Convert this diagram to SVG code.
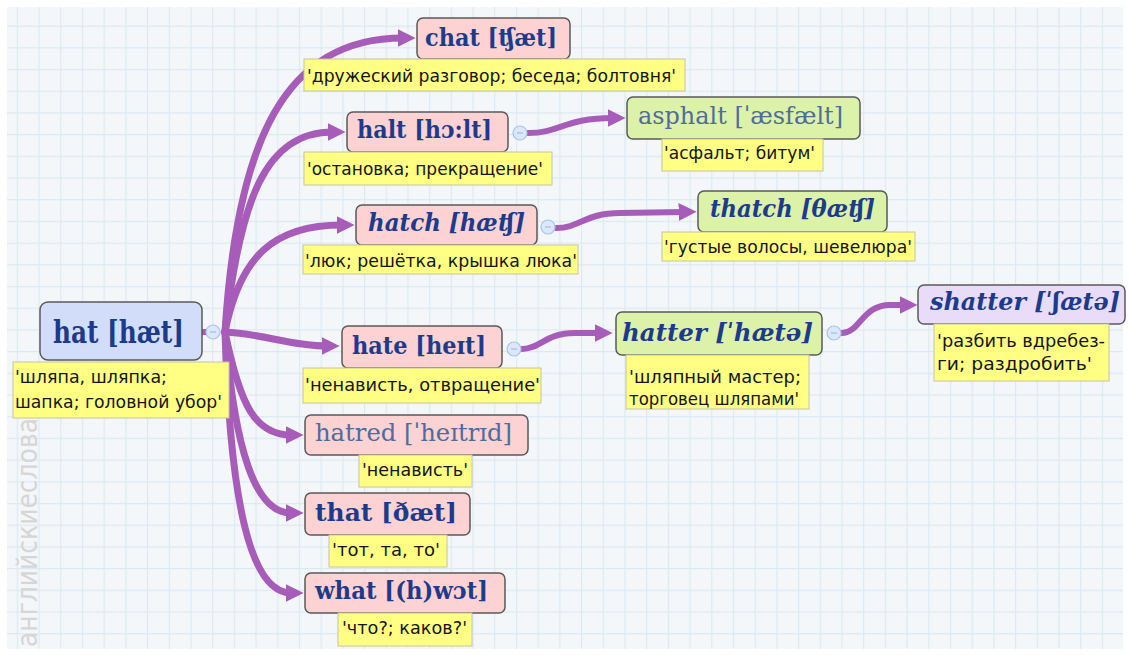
<svg xmlns="http://www.w3.org/2000/svg" width="1129" height="655" viewBox="0 0 1129 655">
<defs>
<pattern id="grid" x="16.8" y="3.8" width="21.7" height="21.7" patternUnits="userSpaceOnUse">
<rect width="21.7" height="21.7" fill="#f4f7f9"/>
<path d="M0.5,0 V21.7 M0,0.5 H21.7" stroke="#dde9f1" stroke-width="1.4" fill="none"/>
</pattern>
<marker id="arr" viewBox="0 0 10 10" refX="3" refY="5" markerWidth="18" markerHeight="19" orient="auto" markerUnits="userSpaceOnUse">
<path d="M0,0 L10,5 L0,10 z" fill="#a65cb8"/>
</marker>
</defs>
<style>
.box{stroke:#5a5a5a;stroke-width:1.5}
.pink{fill:#fcd2d2}
.green{fill:#dcf2a8}
.blue{fill:#d2def9}
.lav{fill:#e9dcf8}
.lbl{fill:#ffff84;stroke:#c4c4a4;stroke-width:1}
.hw{font-family:"DejaVu Serif","Liberation Serif",serif;font-weight:bold;fill:#1c3b8d;font-size:24px}
.it{font-style:italic}
.rg{font-weight:normal;fill:#4f6c9c}
.lt{font-family:"DejaVu Sans","Liberation Sans",sans-serif;font-size:18px;fill:#151515}
.br{fill:none;stroke:#a65cb8;stroke-width:7;stroke-linecap:round}
.sb{fill:none;stroke:#a65cb8;stroke-width:6;stroke-linecap:round}
.col{fill:#dbe7fb;stroke:#aac3ea;stroke-width:1.2}
.minus{stroke:#9ab3da;stroke-width:1}
</style>
<rect x="0" y="0" width="1129" height="655" fill="#ffffff"/>
<rect x="7" y="7" width="1116" height="642" fill="url(#grid)"/>
<text x="37" y="647" transform="rotate(-90 37 647)" font-family="DejaVu Sans, sans-serif" font-size="28" fill="#d6d6d6" textLength="229" lengthAdjust="spacingAndGlyphs">английскиеслова</text>

<g id="connectors">
<path class="br" d="M225,332 C 237,140 285,38 403,38" marker-end="url(#arr)"/>
<path class="br" d="M225,332 C 240,200 265,132 333,132" marker-end="url(#arr)"/>
<path class="br" d="M225,332 C 240,255 275,225 342,225" marker-end="url(#arr)"/>
<path class="br" d="M225,332 C 265,334 290,346 327,346" marker-end="url(#arr)"/>
<path class="br" d="M225,332 C 240,405 255,435 291,435" marker-end="url(#arr)"/>
<path class="br" d="M225,332 C 235,450 255,513 291,513" marker-end="url(#arr)"/>
<path class="br" d="M225,332 C 230,500 250,593 291,593" marker-end="url(#arr)"/>
<path class="sb" d="M202,332 H210"/>
<path class="sb" d="M528,133 C 560,133 565,118 613,118" marker-end="url(#arr)"/>
<path class="sb" d="M556,228 C 580,228 585,213 620,213 L684,212" marker-end="url(#arr)"/>
<path class="sb" d="M522,349 C 540,349 545,333 575,333 L600,333" marker-end="url(#arr)"/>
<path class="sb" d="M842,333 C 860,333 862,305 890,305 L905,305" marker-end="url(#arr)"/>
</g>

<g id="hat">
<rect class="box blue" x="40" y="302" width="162" height="58" rx="8"/>
<text class="hw" x="53" y="343" style="font-size:32px" textLength="131" lengthAdjust="spacingAndGlyphs">hat [hæt]</text>
<rect class="lbl" x="13" y="362" width="216" height="56"/>
<text class="lt" x="15" y="383" textLength="152" lengthAdjust="spacingAndGlyphs">'шляпа, шляпка;</text>
<text class="lt" x="15" y="408" textLength="207" lengthAdjust="spacingAndGlyphs">шапка; головной убор'</text>
<circle class="col" cx="213" cy="332" r="7"/>
<path class="minus" d="M210,332 H216"/>
</g>

<g id="chat">
<rect class="box pink" x="417" y="18" width="153" height="41" rx="6"/>
<text class="hw" x="425" y="46" textLength="132" lengthAdjust="spacingAndGlyphs">chat [ʧæt]</text>
<rect class="lbl" x="304" y="59" width="381" height="32"/>
<text class="lt" x="307" y="82" textLength="369" lengthAdjust="spacingAndGlyphs">'дружеский разговор; беседа; болтовня'</text>
</g>

<g id="halt">
<rect class="box pink" x="347" y="112" width="161" height="40" rx="6"/>
<text class="hw" x="357" y="138" textLength="135" lengthAdjust="spacingAndGlyphs">halt [hɔ:lt]</text>
<rect class="lbl" x="304" y="152" width="248" height="33"/>
<text class="lt" x="307" y="175" textLength="236" lengthAdjust="spacingAndGlyphs">'остановка; прекращение'</text>
<circle class="col" cx="520" cy="133" r="7"/>
<path class="minus" d="M517,133 H523"/>
</g>

<g id="asphalt">
<rect class="box green" x="627" y="97" width="233" height="42" rx="6"/>
<text class="hw rg" x="638" y="124" textLength="205" lengthAdjust="spacingAndGlyphs">asphalt [ˈæsfælt]</text>
<rect class="lbl" x="662" y="139" width="161" height="32"/>
<text class="lt" x="664" y="159" textLength="151" lengthAdjust="spacingAndGlyphs">'асфальт; битум'</text>
</g>

<g id="hatch">
<rect class="box pink" x="356" y="205" width="181" height="40" rx="6"/>
<text class="hw it" x="368" y="231" textLength="157" lengthAdjust="spacingAndGlyphs">hatch [hæʧ]</text>
<rect class="lbl" x="303" y="245" width="275" height="29"/>
<text class="lt" x="305" y="267" textLength="272" lengthAdjust="spacingAndGlyphs">'люк; решётка, крышка люка'</text>
<circle class="col" cx="548" cy="227" r="7"/>
<path class="minus" d="M545,227 H551"/>
</g>

<g id="thatch">
<rect class="box green" x="698" y="191" width="189" height="41" rx="6"/>
<text class="hw it" x="710" y="217" textLength="165" lengthAdjust="spacingAndGlyphs">thatch [θæʧ]</text>
<rect class="lbl" x="662" y="232" width="253" height="29"/>
<text class="lt" x="664" y="253" textLength="248" lengthAdjust="spacingAndGlyphs">'густые волосы, шевелюра'</text>
</g>

<g id="hate">
<rect class="box pink" x="342" y="326" width="160" height="42" rx="6"/>
<text class="hw" x="352" y="354" textLength="134" lengthAdjust="spacingAndGlyphs">hate [heɪt]</text>
<rect class="lbl" x="303" y="368" width="238" height="35"/>
<text class="lt" x="305" y="391" textLength="235" lengthAdjust="spacingAndGlyphs">'ненависть, отвращение'</text>
<circle class="col" cx="514" cy="349" r="7"/>
<path class="minus" d="M511,349 H517"/>
</g>

<g id="hatter">
<rect class="box green" x="616" y="312" width="206" height="43" rx="6"/>
<text class="hw it" x="622" y="341" textLength="191" lengthAdjust="spacingAndGlyphs">hatter [ˈhætə]</text>
<rect class="lbl" x="626" y="355" width="183" height="54"/>
<text class="lt" x="629" y="383" textLength="172" lengthAdjust="spacingAndGlyphs">'шляпный мастер;</text>
<text class="lt" x="629" y="405" textLength="170" lengthAdjust="spacingAndGlyphs">торговец шляпами'</text>
<circle class="col" cx="834" cy="333" r="7"/>
<path class="minus" d="M831,333 H837"/>
</g>

<g id="shatter">
<rect class="box lav" x="918" y="285" width="207" height="39" rx="6"/>
<text class="hw it" x="930" y="310" textLength="190" lengthAdjust="spacingAndGlyphs">shatter [ˈʃætə]</text>
<rect class="lbl" x="934" y="324" width="175" height="57"/>
<text class="lt" x="937" y="347" textLength="168" lengthAdjust="spacingAndGlyphs">'разбить вдребез-</text>
<text class="lt" x="937" y="370" textLength="155" lengthAdjust="spacingAndGlyphs">ги; раздробить'</text>
</g>

<g id="hatred">
<rect class="box pink" x="305" y="415" width="223" height="40" rx="6"/>
<text class="hw rg" x="315" y="441" textLength="197" lengthAdjust="spacingAndGlyphs">hatred [ˈheɪtrɪd]</text>
<rect class="lbl" x="359" y="455" width="113" height="32"/>
<text class="lt" x="362" y="476" textLength="106" lengthAdjust="spacingAndGlyphs">'ненависть'</text>
</g>

<g id="that">
<rect class="box pink" x="305" y="493" width="165" height="42" rx="6"/>
<text class="hw" x="315" y="521" textLength="142" lengthAdjust="spacingAndGlyphs">that [ðæt]</text>
<rect class="lbl" x="329" y="535" width="118" height="32"/>
<text class="lt" x="332" y="556" textLength="108" lengthAdjust="spacingAndGlyphs">'тот, та, то'</text>
</g>

<g id="what">
<rect class="box pink" x="305" y="573" width="200" height="40" rx="6"/>
<text class="hw" x="315" y="599" textLength="173" lengthAdjust="spacingAndGlyphs">what [(h)wɔt]</text>
<rect class="lbl" x="338" y="613" width="134" height="33"/>
<text class="lt" x="342" y="634" textLength="125" lengthAdjust="spacingAndGlyphs">'что?; каков?'</text>
</g>
</svg>
